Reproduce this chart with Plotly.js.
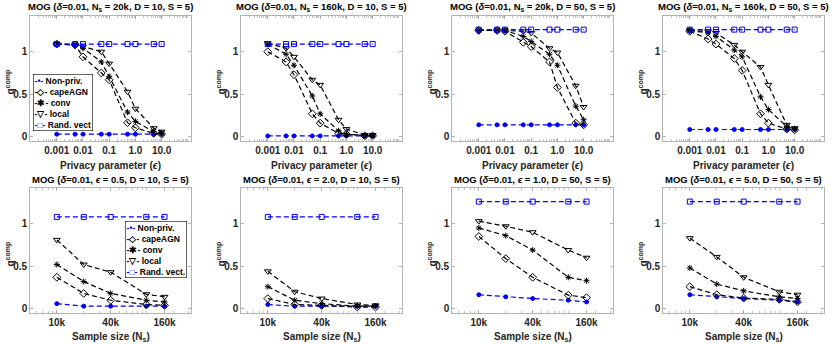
<!DOCTYPE html>
<html>
<head>
<meta charset="utf-8">
<script src="https://cdn.plot.ly/plotly-3.0.1.min.js"></script>
<style>
  html, body { margin: 0; padding: 0; background: #fff; }
  #chart { width: 831px; height: 344px; }
</style>
</head>
<body>
<div id="chart"></div>
<script>
// x values
var epsVals = [0.001, 0.005, 0.01, 0.05, 0.1, 0.5, 1, 5, 10];
var sampleSizes = [10000, 20000, 40000, 100000, 160000];

var epsTickVals = [0.001, 0.01, 0.1, 1, 10];
var epsTickText = ['0.001', '0.01', '0.1', '1.0', '10.0'];
var sizeTickVals = [10000, 40000, 160000];
var sizeTickText = ['10k', '40k', '160k'];
var qTickVals = [0, 0.5, 1];
var qTickText = ['0', '0.5', '1'];

var seriesNames = ['Non-priv.', 'capeAGN', 'conv', 'local', 'Rand. vect.'];

// top row: q vs epsilon
var nonPriv1 = [0.03, 0.03, 0.03, 0.03, 0.03, 0.03, 0.03, 0.03, 0.03];
var cape1    = [1.09, 1.08, 0.94, 0.75, 0.67, 0.165, 0.105, 0.04, 0.03];
var conv1    = [1.09, 1.08, 1.04, 0.88, 0.71, 0.29, 0.18, 0.06, 0.04];
var local1   = [1.09, 1.08, 1.06, 1.00, 0.86, 0.53, 0.33, 0.10, 0.06];
var rand1    = [1.09, 1.09, 1.09, 1.09, 1.09, 1.09, 1.09, 1.09, 1.09];

var nonPriv2 = [0.01, 0.01, 0.01, 0.01, 0.01, 0.01, 0.01, 0.01, 0.01];
var cape2    = [1.00, 0.88, 0.73, 0.27, 0.16, 0.04, 0.03, 0.01, 0.01];
var conv2    = [1.09, 0.97, 0.84, 0.48, 0.27, 0.07, 0.03, 0.01, 0.01];
var local2   = [1.10, 1.04, 0.94, 0.67, 0.61, 0.20, 0.09, 0.02, 0.02];
var rand2    = [1.09, 1.09, 1.09, 1.09, 1.09, 1.09, 1.09, 1.09, 1.09];

var nonPriv3 = [0.14, 0.14, 0.14, 0.14, 0.14, 0.14, 0.14, 0.14, 0.14];
var cape3    = [1.25, 1.25, 1.24, 1.11, 1.06, 0.88, 0.58, 0.16, 0.14];
var conv3    = [1.25, 1.25, 1.25, 1.18, 1.12, 0.97, 0.84, 0.36, 0.20];
var local3   = [1.25, 1.25, 1.25, 1.24, 1.22, 1.04, 0.99, 0.60, 0.35];
var rand3    = [1.26, 1.26, 1.26, 1.26, 1.26, 1.26, 1.26, 1.26, 1.26];

var nonPriv4 = [0.085, 0.085, 0.085, 0.085, 0.085, 0.085, 0.085, 0.085, 0.085];
var cape4    = [1.24, 1.15, 1.09, 0.92, 0.78, 0.27, 0.16, 0.09, 0.08];
var conv4    = [1.25, 1.22, 1.18, 1.02, 0.94, 0.47, 0.32, 0.12, 0.09];
var local4   = [1.25, 1.24, 1.22, 1.08, 1.00, 0.82, 0.61, 0.14, 0.10];
var rand4    = [1.26, 1.26, 1.26, 1.26, 1.26, 1.26, 1.26, 1.26, 1.26];

// bottom row: q vs sample size
var nonPriv5 = [0.06, 0.03, 0.03, 0.03, 0.03];
var cape5    = [0.37, 0.18, 0.10, 0.05, 0.04];
var conv5    = [0.52, 0.32, 0.18, 0.10, 0.08];
var local5   = [0.81, 0.52, 0.43, 0.17, 0.14];
var rand5    = [1.08, 1.08, 1.08, 1.08, 1.08];

var nonPriv6 = [0.05, 0.03, 0.03, 0.03, 0.03];
var cape6    = [0.12, 0.05, 0.04, 0.02, 0.02];
var conv6    = [0.26, 0.10, 0.06, 0.03, 0.03];
var local6   = [0.44, 0.20, 0.12, 0.05, 0.04];
var rand6    = [1.08, 1.08, 1.08, 1.08, 1.08];

var nonPriv7 = [0.165, 0.14, 0.12, 0.10, 0.08];
var cape7    = [0.85, 0.59, 0.37, 0.16, 0.13];
var conv7    = [0.95, 0.86, 0.69, 0.37, 0.33];
var local7   = [1.03, 0.97, 0.90, 0.69, 0.60];
var rand7    = [1.26, 1.26, 1.26, 1.26, 1.26];

var nonPriv8 = [0.165, 0.14, 0.12, 0.10, 0.08];
var cape8    = [0.26, 0.165, 0.125, 0.11, 0.08];
var conv8    = [0.48, 0.29, 0.21, 0.14, 0.12];
var local8   = [0.83, 0.61, 0.37, 0.20, 0.165];
var rand8    = [1.26, 1.26, 1.26, 1.26, 1.26];

var panelTitles = [
  'MOG (<i>δ</i>=0.01, N<sub>s</sub> = 20k, D = 10, S = 5)',
  'MOG (<i>δ</i>=0.01, N<sub>s</sub> = 160k, D = 10, S = 5)',
  'MOG (<i>δ</i>=0.01, N<sub>s</sub> = 20k, D = 50, S = 5)',
  'MOG (<i>δ</i>=0.01, N<sub>s</sub> = 160k, D = 50, S = 5)',
  'MOG (<i>δ</i>=0.01, <i>ϵ</i> = 0.5, D = 10, S = 5)',
  'MOG (<i>δ</i>=0.01, <i>ϵ</i> = 2.0, D = 10, S = 5)',
  'MOG (<i>δ</i>=0.01, <i>ϵ</i> = 1.0, D = 50, S = 5)',
  'MOG (<i>δ</i>=0.01, <i>ϵ</i> = 5.0, D = 50, S = 5)'
];

var panelData = [
  [nonPriv1, cape1, conv1, local1, rand1],
  [nonPriv2, cape2, conv2, local2, rand2],
  [nonPriv3, cape3, conv3, local3, rand3],
  [nonPriv4, cape4, conv4, local4, rand4],
  [nonPriv5, cape5, conv5, local5, rand5],
  [nonPriv6, cape6, conv6, local6, rand6],
  [nonPriv7, cape7, conv7, local7, rand7],
  [nonPriv8, cape8, conv8, local8, rand8]
];

var W = 831, H = 344;
var colLeft = [30, 241, 452, 663];
var plotW = 161;
var rowTop = [16, 188];
var plotH = 125;
var FONT = 'Liberation Sans, Arial, sans-serif';
var TXT = '#262626';
var AXC = '#a0a0a0';

var styles = [
  {color: '#0000ff', symbol: 'circle', size: 4},
  {color: '#000000', symbol: 'diamond-open', size: 6},
  {color: '#000000', symbol: 'asterisk-open', size: 5},
  {color: '#000000', symbol: 'triangle-down-open', size: 6},
  {color: '#0000ff', symbol: 'square-open', size: 5}
];

var traces = [];
var layout = {
  width: W, height: H,
  margin: {l: 0, r: 0, t: 0, b: 0},
  paper_bgcolor: 'white',
  plot_bgcolor: 'white',
  showlegend: false,
  font: {family: FONT, color: TXT, size: 10},
  annotations: []
};

function px2x(p) { return p / W; }
function px2y(p) { return 1 - p / H; }

for (var i = 0; i < 8; i++) {
  var row = i < 4 ? 0 : 1;
  var col = i % 4;
  var n = i + 1;
  var xs = row === 0 ? epsVals : sampleSizes;
  for (var s = 0; s < 5; s++) {
    var st = styles[s];
    traces.push({
      x: xs, y: panelData[i][s],
      xaxis: 'x' + n, yaxis: 'y' + n,
      mode: 'lines+markers',
      name: seriesNames[s],
      line: {color: st.color, width: 1.2, dash: '5px,3px'},
      marker: {color: st.color, symbol: st.symbol, size: st.size,
               line: {color: st.color, width: 1}},
      hoverinfo: 'skip'
    });
  }
  var x0 = colLeft[col], y0 = rowTop[row];
  layout['xaxis' + n] = {
    domain: [px2x(x0), px2x(x0 + plotW)],
    anchor: 'y' + n,
    type: 'log',
    range: row === 0 ? [-4.02, 2.12] : [3.7, 5.5],
    tickmode: 'array',
    tickvals: row === 0 ? epsTickVals : sizeTickVals,
    ticktext: row === 0 ? epsTickText : sizeTickText,
    ticks: 'inside', ticklen: 3, tickcolor: AXC, tickwidth: 0.8,
    minor: {dtick: 'D1', ticks: 'inside', ticklen: 2, tickcolor: AXC, tickwidth: 0.6},
    showline: true, linecolor: AXC, linewidth: 0.8, mirror: 'ticks',
    showgrid: false, zeroline: false,
    tickfont: {size: 10, color: TXT, family: FONT, weight: 'bold'}
  };
  layout['yaxis' + n] = {
    domain: [px2y(y0 + plotH), px2y(y0)],
    anchor: 'x' + n,
    range: [-0.05, 1.42],
    tickmode: 'array',
    tickvals: qTickVals, ticktext: qTickText,
    ticks: 'inside', ticklen: 3, tickcolor: AXC, tickwidth: 0.8,
    showline: true, linecolor: AXC, linewidth: 0.8, mirror: 'ticks',
    showgrid: false, zeroline: false,
    tickfont: {size: 10, color: TXT, family: FONT, weight: 'bold'}
  };

  // panel title
  layout.annotations.push({
    xref: 'paper', yref: 'paper',
    x: px2x(x0 + plotW / 2), y: px2y(y0 - 9),
    xanchor: 'center', yanchor: 'middle', showarrow: false,
    text: '<b>' + panelTitles[i] + '</b>',
    font: {size: 9.5, color: '#000', family: FONT}
  });
  // x label
  layout.annotations.push({
    xref: 'paper', yref: 'paper',
    x: px2x(x0 + plotW / 2), y: px2y(y0 + plotH + 24),
    xanchor: 'center', yanchor: 'middle', showarrow: false,
    text: row === 0 ? '<b>Privacy parameter (<i>ϵ</i>)</b>' : '<b>Sample size (N<sub>s</sub>)</b>',
    font: {size: 10, color: TXT, family: FONT}
  });
  // y label
  layout.annotations.push({
    xref: 'paper', yref: 'paper',
    x: px2x(x0 - 21), y: px2y(y0 + plotH / 2 + 4),
    xanchor: 'center', yanchor: 'middle', showarrow: false,
    textangle: -90,
    text: '<b>q<sup>comp</sup></b>',
    font: {size: 10, color: TXT, family: FONT}
  });
}

// legends drawn as boxed text
var legendGlyphs = ['-•-', '-◇-', '-✱-', '-▽-', '-□-'];
function legendText(names) {
  var lines = [];
  for (var k = 0; k < names.length; k++) {
    lines.push('<span style="color:' + styles[k].color + '">' + legendGlyphs[k] + '</span> ' + names[k]);
  }
  return '<b>' + lines.join('<br>') + '</b>';
}
var legend1Names = seriesNames.slice(0, 4).concat(['Rand. vect']);
layout.annotations.push({
  xref: 'paper', yref: 'paper',
  x: px2x(33), y: px2y(74), xanchor: 'left', yanchor: 'top',
  showarrow: false, align: 'left',
  text: legendText(legend1Names),
  font: {size: 8.5, color: '#000', family: FONT},
  bgcolor: 'white', bordercolor: '#000', borderwidth: 0.6, borderpad: 1
});
layout.annotations.push({
  xref: 'paper', yref: 'paper',
  x: px2x(187), y: px2y(221), xanchor: 'right', yanchor: 'top',
  showarrow: false, align: 'left',
  text: legendText(seriesNames),
  font: {size: 8.5, color: '#000', family: FONT},
  bgcolor: 'white', bordercolor: '#000', borderwidth: 0.6, borderpad: 1
});

Plotly.newPlot('chart', traces, layout, {displayModeBar: false, staticPlot: true});
</script>
</body>
</html>
